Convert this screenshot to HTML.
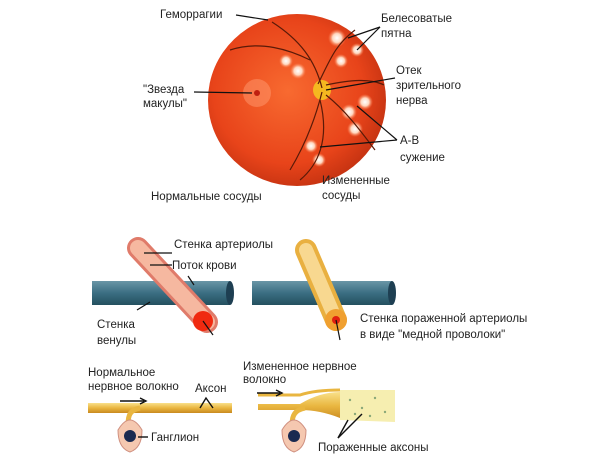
<!DOCTYPE html>
<html><head><meta charset="utf-8"><style>
body{margin:0;background:#fff}
svg{display:block;font-family:"Liberation Sans",sans-serif;font-size:11.5px;fill:#222}
</style></head><body>
<svg width="600" height="462" viewBox="0 0 600 462">
<defs>
<radialGradient id="eye" cx="0.45" cy="0.45" r="0.6">
<stop offset="0" stop-color="#f86a30"/><stop offset="0.7" stop-color="#e8441a"/><stop offset="1" stop-color="#c03010"/>
</radialGradient>
<radialGradient id="spot"><stop offset="0" stop-color="#fff"/><stop offset="0.5" stop-color="#ffd8c0"/><stop offset="1" stop-color="#ff8050" stop-opacity="0"/></radialGradient>
<linearGradient id="blue" x1="0" y1="0" x2="0" y2="1"><stop offset="0" stop-color="#6a96a6"/><stop offset="0.5" stop-color="#3b6e82"/><stop offset="1" stop-color="#24505f"/></linearGradient>
<linearGradient id="yel" x1="0" y1="0" x2="0" y2="1"><stop offset="0" stop-color="#f9e08a"/><stop offset="0.5" stop-color="#e9b640"/><stop offset="1" stop-color="#c98a20"/></linearGradient>
</defs>
<ellipse cx="297" cy="100" rx="89" ry="86" fill="url(#eye)"/>
<g fill="url(#spot)">
<circle cx="337" cy="38" r="9"/><circle cx="357" cy="50" r="7"/><circle cx="341" cy="61" r="7"/>
<circle cx="286" cy="61" r="7"/><circle cx="298" cy="71" r="8"/>
<circle cx="365" cy="102" r="8"/><circle cx="349" cy="112" r="8"/><circle cx="355" cy="129" r="8"/>
<circle cx="311" cy="146" r="7"/><circle cx="319" cy="160" r="7"/>
</g>
<circle cx="257" cy="93" r="14" fill="#ff9a70" opacity="0.5"/>
<circle cx="257" cy="93" r="3" fill="#c02010"/>
<ellipse cx="322" cy="90" rx="9" ry="10" fill="#f5b820"/>
<g stroke="#5a1a08" stroke-width="1.2" fill="none">
<path d="M322 88 C315 60 300 40 272 22"/><path d="M318 84 C330 60 335 45 355 30"/>
<path d="M322 92 C315 120 305 145 290 170"/><path d="M326 95 C345 110 360 130 375 150"/>
<path d="M320 100 C330 140 318 165 300 180"/><path d="M310 60 C290 50 260 40 230 50"/>
<path d="M326 85 C350 80 370 78 384 85"/>
</g>
<g stroke="#111" stroke-width="1.2" fill="none">
<path d="M236 15 L268 20"/><path d="M380 27 L348 38"/><path d="M380 27 L357 50"/>
<path d="M194 92 L252 93"/><path d="M395 78 L326 90"/>
<path d="M397 140 L357 106"/><path d="M397 140 L320 147"/>
</g>
<text x="160" y="18">Геморрагии</text>
<text x="381" y="22">Белесоватые</text><text x="381" y="37">пятна</text>
<text x="396" y="74">Отек</text><text x="396" y="89">зрительного</text><text x="396" y="104">нерва</text>
<text x="400" y="144">А-В</text><text x="400" y="161">сужение</text>
<text x="322" y="184">Измененные</text><text x="322" y="199">сосуды</text>
<text x="151" y="200">Нормальные сосуды</text>
<text x="143" y="93">"Звезда</text><text x="143" y="107">макулы"</text>
<rect x="92" y="281" width="138" height="24" fill="url(#blue)"/><ellipse cx="230" cy="293" rx="4" ry="12" fill="#1e3f52"/>
<path d="M138 248 L207 322" stroke="#e07b6a" stroke-width="22" stroke-linecap="round"/>
<path d="M138 248 L207 322" stroke="#f6b8a0" stroke-width="16" stroke-linecap="round"/>
<circle cx="203" cy="321" r="10" fill="#f02a10"/>
<rect x="252" y="281" width="140" height="24" fill="url(#blue)"/><ellipse cx="392" cy="293" rx="4" ry="12" fill="#1e3f52"/>
<path d="M306 250 L336 320" stroke="#e9b040" stroke-width="22" stroke-linecap="round"/>
<path d="M306 250 L336 320" stroke="#f8d890" stroke-width="14" stroke-linecap="round"/>
<circle cx="336" cy="320" r="11" fill="#f0a030"/><circle cx="336" cy="320" r="4" fill="#e02010"/>
<g stroke="#111" stroke-width="1.2">
<path d="M144 253 L172 253"/><path d="M150 265 L172 265"/><path d="M188 276 L194 285"/><path d="M137 310 L150 302"/>
<path d="M203 321 L213 335"/><path d="M336 320 L340 340"/>
</g>
<text x="174" y="248">Стенка артериолы</text><text x="172" y="269">Поток крови</text>
<text x="97" y="328">Стенка</text><text x="97" y="344">венулы</text>
<text x="360" y="322">Стенка пораженной артериолы</text><text x="360" y="338">в виде "медной проволоки"</text>
<rect x="88" y="403" width="144" height="10" fill="url(#yel)"/>
<path d="M128 425 C128 415 130 410 140 408" stroke="#e9b640" stroke-width="5" fill="none"/>
<path d="M118 430 Q130 410 142 430 Q142 448 130 452 Q118 448 118 430Z" fill="#f5c8b0" stroke="#d09080"/>
<circle cx="130" cy="436" r="6" fill="#1a2a50"/>
<path d="M258 404 L300 404 Q320 392 340 392 L395 392 L395 420 L340 418 Q320 410 300 410 L258 410Z" fill="url(#yel)"/>
<path d="M258 395 L300 395 Q315 390 340 390" stroke="#e9b640" stroke-width="3" fill="none"/>
<path d="M340 390 L395 390 L395 422 L340 420Z" fill="#f6eeb0"/>
<g fill="#8aa878"><circle cx="350" cy="400" r="1.2"/><circle cx="362" cy="408" r="1.2"/><circle cx="375" cy="398" r="1.2"/><circle cx="385" cy="412" r="1.2"/><circle cx="355" cy="414" r="1.2"/><circle cx="370" cy="416" r="1.2"/></g>
<path d="M292 425 C292 415 295 410 305 408" stroke="#e9b640" stroke-width="5" fill="none"/>
<path d="M282 430 Q294 410 306 430 Q306 448 294 452 Q282 448 282 430Z" fill="#f5c8b0" stroke="#d09080"/>
<circle cx="294" cy="436" r="6" fill="#1a2a50"/>
<g stroke="#111" stroke-width="1.4" fill="none">
<path d="M120 401 L144 401"/><path d="M140 398 L146 401 L140 404"/>
<path d="M257 393 L280 393"/><path d="M276 390 L282 393 L276 396"/>
<path d="M200 408 L206 398 L213 408"/><path d="M138 437 L148 437"/>
<path d="M338 438 L348 420"/><path d="M338 438 L362 414"/>
</g>
<text x="88" y="376">Нормальное</text><text x="88" y="390">нервное волокно</text>
<text x="195" y="392">Аксон</text><text x="151" y="441">Ганглион</text>
<text x="243" y="370">Измененное нервное</text><text x="243" y="383">волокно</text>
<text x="318" y="451">Пораженные аксоны</text>
</svg>
</body></html>
